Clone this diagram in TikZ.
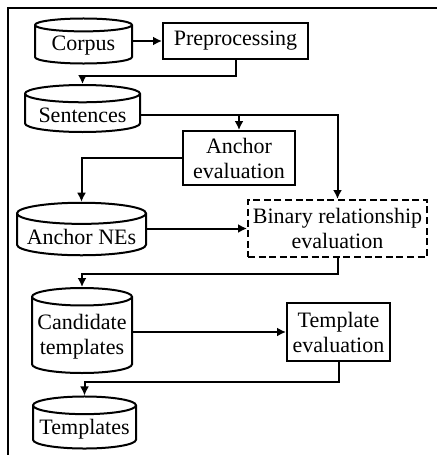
\documentclass[tikz,border=0pt]{standalone}
\usepackage{fontspec}
\setmainfont{Liberation Serif}
\usepackage{tikz}
\usetikzlibrary{shapes,arrows.meta,positioning}

\tikzset{
	procbox/.style = {draw, line width=1pt, align=center, inner sep=2pt},
	database/.style = {draw, line width=1pt, cylinder, shape border rotate=90, aspect=0.18, align=center, inner sep=2pt, anchor=shape center},
	flow/.style = {-{Latex[length=4.5pt,width=4.5pt]}, line width=1pt}
}

\begin{document}
\begin{tikzpicture}[
				x = 0.5pt, y = -0.5pt,
				every node/.style = {font=\fontsize{11}{12.5}\selectfont}
				]
				\useasboundingbox (0,0) rectangle (437,455);
				\draw [line width=1pt] (8,470) -- (8,8) -- (450,8);
				
				% stores and steps
				\node [database, minimum width=48.5pt, minimum height=22pt] (corpus) at (83.5,41) {Corpus};
				\node [procbox, minimum width=72.5pt, minimum height=18pt] (prep) at (235.5,41) {Preprocessing};
				\node [database, minimum width=57.5pt, minimum height=23.5pt] (sent) at (82.5,108.5) {Sentences};
				\node [procbox, minimum width=56pt, minimum height=27pt] (anchoreval) at (239,158) {Anchor\\evaluation};
				\node [database, minimum width=64.5pt, minimum height=24pt] (anchorne) at (81.5,229) {Anchor NEs};
				\node [procbox, dash pattern=on 3.5pt off 1.8pt, minimum width=89.5pt, minimum height=28.5pt] (binary) at (337.5,228.5) {Binary relationship\\evaluation};
				\node [database, minimum width=50pt, minimum height=42.5pt] (cand) at (82,330.5) {Candidate\\templates};
				\node [procbox, minimum width=51.5pt, minimum height=29pt] (tempeval) at (338.5,332) {Template\\evaluation};
				\node [database, minimum width=51.5pt, minimum height=20.5pt] (templates) at (84.5,422.5) {Templates};
				
				% connectors
				\draw [flow] (corpus.east |- prep.west) -- (prep.west);
				\draw [flow] (prep.south) -- ++(0,16) -| (sent.north);
				\draw [flow] (sent.east) -| (binary.north);
				\draw [flow] (anchoreval.north |- sent.east) -- (anchoreval.north);
				\draw [flow] (anchoreval.west) -| (anchorne.north);
				\draw [flow] (anchorne.east |- binary.west) -- (binary.west);
				\draw [flow] (binary.south) -- ++(0,16) -| (cand.north);
				\draw [flow] (cand.east |- tempeval.west) -- (tempeval.west);
				\draw [flow] (tempeval.south) -- ++(0,20) -| (templates.north);
\end{tikzpicture}
\end{document}
